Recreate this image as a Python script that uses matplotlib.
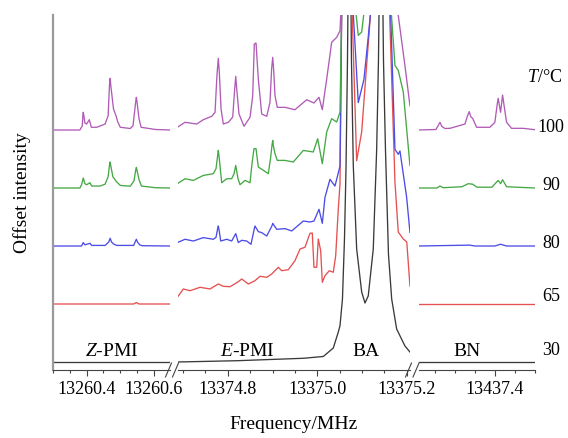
import matplotlib
matplotlib.use('Agg')
import matplotlib.pyplot as plt
from matplotlib.lines import Line2D
from matplotlib.ticker import FixedLocator, MultipleLocator, FormatStrFormatter

plt.rcParams['font.family'] = ['Liberation Serif', 'DejaVu Serif']
plt.rcParams['mathtext.fontset'] = 'custom'
plt.rcParams['mathtext.rm'] = 'Liberation Serif'
plt.rcParams['mathtext.it'] = 'Liberation Serif:italic'

# ---------------- data ----------------
temps = [30, 65, 80, 90, 100]
offsets = [0.0, 1.0, 2.0, 3.0, 4.0]
colors = ['#3a3a3a', '#e65050', '#4c4ce6', '#45a845', '#b05cb6']

seg_limits = [(13260.300, 13260.648), (13374.689, 13375.207), (13437.210, 13437.5005)]
seg_major = [[13260.4, 13260.6], [13374.8, 13375.0, 13375.2], [13437.4]]
seg_names = ['$Z$-PMI', '$E$-PMI', 'BA', 'BN']

# Z-PMI region (frequency MHz, relative intensity)
zpmi_30 = [(13260.300, 0.0), (13260.648, 0.0)]
zpmi_65 = [(13260.300, 0.0), (13260.540, 0.0), (13260.548, 0.025), (13260.556, 0.0), (13260.648, 0.0)]
zpmi_80 = [(13260.300, 0.0), (13260.385, 0.0), (13260.390, 0.059), (13260.395, 0.02), (13260.410, 0.046),
           (13260.415, 0.01), (13260.455, 0.01), (13260.466, 0.07), (13260.470, 0.133), (13260.474, 0.07),
           (13260.480, 0.035), (13260.490, 0.01), (13260.540, 0.01), (13260.545, 0.08), (13260.548, 0.116),
           (13260.551, 0.07), (13260.558, 0.02), (13260.565, 0.005), (13260.648, 0.0)]
zpmi_90 = [(13260.300, 0.0), (13260.380, 0.0), (13260.385, 0.057), (13260.390, 0.172), (13260.395, 0.074),
           (13260.400, 0.057), (13260.410, 0.091), (13260.415, 0.034), (13260.440, 0.034), (13260.455, 0.066),
           (13260.464, 0.195), (13260.468, 0.39), (13260.470, 0.448), (13260.472, 0.38), (13260.478, 0.195),
           (13260.488, 0.114), (13260.500, 0.045), (13260.530, 0.031), (13260.541, 0.126), (13260.546, 0.31),
           (13260.548, 0.355), (13260.550, 0.30), (13260.556, 0.143), (13260.563, 0.034),
           (13260.605, 0.005), (13260.648, 0.0)]
zpmi_100 = [(13260.300, 0.0), (13260.380, 0.0), (13260.387, 0.07), (13260.389, 0.26), (13260.390, 0.305),
            (13260.392, 0.24), (13260.395, 0.12), (13260.400, 0.103), (13260.408, 0.178), (13260.414, 0.047),
            (13260.430, 0.047), (13260.455, 0.103), (13260.464, 0.247), (13260.468, 0.78), (13260.470, 0.891),
            (13260.472, 0.76), (13260.480, 0.362), (13260.488, 0.236), (13260.492, 0.15), (13260.500, 0.047),
            (13260.530, 0.026), (13260.538, 0.074), (13260.546, 0.49), (13260.548, 0.564), (13260.550, 0.48),
            (13260.556, 0.19), (13260.562, 0.047), (13260.605, 0.009), (13260.648, 0.0)]

# E-PMI + BA region
epmi_30 = [(13374.6875, 0.0), (13374.8201, 0.022), (13374.9688, 0.064), (13375.0134, 0.095),
           (13375.0357, 0.241), (13375.0469, 0.517), (13375.0507, 0.626), (13375.0562, 1.086),
           (13375.0607, 2.12), (13375.0641, 3.33), (13375.0674, 5.2), (13375.0719, 9.0),
           (13375.0763, 5.2), (13375.0804, 3.38), (13375.0879, 1.95), (13375.0991, 1.207),
           (13375.1065, 1.017), (13375.1138, 1.14), (13375.1250, 1.95), (13375.1326, 3.67),
           (13375.1366, 5.2), (13375.1422, 9.0), (13375.1478, 5.2), (13375.1522, 3.67),
           (13375.1589, 1.86), (13375.1661, 1.086), (13375.1772, 0.569), (13375.1957, 0.276),
           (13375.2069, 0.172)]
epmi_65 = [(13374.6875, 0.116), (13374.7009, 0.259), (13374.7159, 0.229), (13374.7382, 0.288),
           (13374.7605, 0.259), (13374.7790, 0.345), (13374.7902, 0.305), (13374.8051, 0.298),
           (13374.8237, 0.384), (13374.8313, 0.431), (13374.8460, 0.345), (13374.8609, 0.402),
           (13374.8721, 0.478), (13374.8871, 0.460), (13374.8982, 0.517), (13374.9130, 0.633),
           (13374.9205, 0.574), (13374.9353, 0.591), (13374.9502, 0.747), (13374.9614, 0.948),
           (13374.9725, 0.978), (13374.9837, 1.219), (13374.9888, 1.224), (13374.9926, 0.633),
           (13374.9987, 0.633), (13375.0022, 1.121), (13375.0076, 0.919), (13375.0112, 0.374),
           (13375.0172, 0.488), (13375.0268, 0.574), (13375.0357, 0.547), (13375.0411, 0.833),
           (13375.0469, 1.638), (13375.0507, 2.07), (13375.0545, 5.1), (13375.0719, 8.0),
           (13375.0775, 5.1), (13375.0879, 2.471), (13375.0991, 2.966), (13375.1087, 3.966),
           (13375.1198, 5.1), (13375.1422, 8.0), (13375.1611, 5.1), (13375.1734, 2.103),
           (13375.1808, 1.241), (13375.1920, 1.121), (13375.1998, 1.069), (13375.2069, 0.31)]
epmi_80 = [(13374.6875, 0.059), (13374.7047, 0.116), (13374.7232, 0.086), (13374.7456, 0.145),
           (13374.7679, 0.116), (13374.7739, 0.15), (13374.7775, 0.30), (13374.7790, 0.345),
           (13374.7806, 0.28), (13374.7844, 0.086), (13374.7978, 0.116), (13374.8089, 0.086),
           (13374.8179, 0.214), (13374.8237, 0.059), (13374.8313, 0.098), (13374.8424, 0.086),
           (13374.8520, 0.029), (13374.8594, 0.30), (13374.8609, 0.345), (13374.8683, 0.248),
           (13374.8759, 0.231), (13374.8871, 0.172), (13374.8989, 0.35), (13374.9005, 0.391),
           (13374.9094, 0.288), (13374.9279, 0.300), (13374.9429, 0.259), (13374.9576, 0.357),
           (13374.9688, 0.431), (13374.9837, 0.414), (13374.9926, 0.431), (13375.0038, 0.633),
           (13375.0112, 0.391), (13375.0172, 0.840), (13375.0283, 1.15), (13375.0395, 1.034),
           (13375.0507, 1.379), (13375.0545, 4.1), (13375.0719, 8.0), (13375.0797, 4.1),
           (13375.0915, 2.472), (13375.1042, 2.874), (13375.1132, 3.56), (13375.1199, 4.1),
           (13375.1422, 8.0), (13375.1634, 4.1), (13375.1734, 1.667), (13375.1808, 1.581),
           (13375.1846, 1.638), (13375.1995, 0.84), (13375.2069, 0.236)]
epmi_90 = [(13374.6875, 0.074), (13374.7047, 0.160), (13374.7232, 0.131), (13374.7456, 0.217),
           (13374.7679, 0.247), (13374.7739, 0.333), (13374.7775, 0.56), (13374.7790, 0.648),
           (13374.7806, 0.55), (13374.7866, 0.091), (13374.7978, 0.160), (13374.8089, 0.160),
           (13374.8141, 0.247), (13374.8179, 0.390), (13374.8230, 0.160), (13374.8275, 0.057),
           (13374.8386, 0.131), (13374.8498, 0.091), (13374.8542, 0.419), (13374.8587, 0.678),
           (13374.8632, 0.678), (13374.8683, 0.362), (13374.8833, 0.286), (13374.8906, 0.247),
           (13374.8955, 0.505), (13374.8989, 0.74), (13374.9005, 0.821), (13374.9021, 0.72),
           (13374.9056, 0.591), (13374.9107, 0.476), (13374.9279, 0.476), (13374.9464, 0.448),
           (13374.9688, 0.648), (13374.9911, 0.621), (13375.0009, 0.850), (13375.0112, 0.419),
           (13375.0210, 0.966), (13375.0321, 1.195), (13375.0433, 1.138), (13375.0507, 1.31),
           (13375.0545, 3.1), (13375.0719, 8.0), (13375.0853, 3.1), (13375.0915, 2.631),
           (13375.0991, 2.69), (13375.1054, 3.1), (13375.1422, 8.0), (13375.1645, 3.1),
           (13375.1734, 2.114), (13375.1808, 2.028), (13375.1920, 1.655), (13375.2069, 0.390)]
epmi_100 = [(13374.6875, 0.047), (13374.7047, 0.133), (13374.7308, 0.103), (13374.7456, 0.178),
            (13374.7643, 0.236), (13374.7717, 0.305), (13374.7760, 0.95), (13374.7790, 1.236),
            (13374.7812, 1.00), (13374.7851, 0.362), (13374.7902, 0.103), (13374.8014, 0.133),
            (13374.8112, 0.224), (13374.8155, 0.70), (13374.8179, 0.926), (13374.8200, 0.72),
            (13374.8252, 0.276), (13374.8364, 0.064), (13374.8498, 0.219), (13374.8558, 0.591),
            (13374.8594, 1.483), (13374.8632, 1.500), (13374.8683, 0.879), (13374.8759, 0.276),
            (13374.8871, 0.236), (13374.8944, 0.478), (13374.8980, 1.05), (13374.9005, 1.253),
            (13374.9027, 1.02), (13374.9056, 0.591), (13374.9107, 0.391), (13374.9279, 0.391),
            (13374.9502, 0.350), (13374.9763, 0.522), (13374.9926, 0.466), (13375.0038, 0.564),
            (13375.0112, 0.350), (13375.0210, 0.879), (13375.0321, 1.512), (13375.0433, 1.598),
            (13375.0507, 1.71), (13375.0530, 2.1), (13375.0719, 8.0), (13375.1065, 3.0),
            (13375.1422, 8.0), (13375.1795, 2.05), (13375.1957, 1.109), (13375.2069, 0.419)]

# BN region
bn_30 = [(13437.2083, 0.0), (13437.5, 0.0)]
bn_65 = [(13437.2083, 0.0), (13437.5, 0.0)]
bn_80 = [(13437.2083, 0.0), (13437.3375, 0.015), (13437.350, 0.0), (13437.400, 0.0),
         (13437.4143, 0.03), (13437.4293, 0.0), (13437.5, 0.0)]
bn_90 = [(13437.2083, 0.0), (13437.255, 0.0), (13437.2625, 0.034), (13437.270, 0.005),
         (13437.3175, 0.022), (13437.3333, 0.074), (13437.3443, 0.066), (13437.355, 0.014),
         (13437.3925, 0.014), (13437.4083, 0.131), (13437.4143, 0.074), (13437.4193, 0.143),
         (13437.4293, 0.022), (13437.5, 0.0)]
bn_100 = [(13437.2083, 0.0), (13437.2525, 0.009), (13437.2575, 0.069), (13437.2625, 0.133),
          (13437.2675, 0.06), (13437.275, 0.026), (13437.2875, 0.029), (13437.325, 0.103),
          (13437.3313, 0.241), (13437.3358, 0.317), (13437.3400, 0.224), (13437.3443, 0.202),
          (13437.3543, 0.047), (13437.3875, 0.047), (13437.400, 0.133), (13437.4060, 0.45),
          (13437.4083, 0.547), (13437.4143, 0.305), (13437.4193, 0.603), (13437.4225, 0.45),
          (13437.4293, 0.133), (13437.4418, 0.029), (13437.4708, 0.029), (13437.5, 0.005)]

segments = [
    [zpmi_30, zpmi_65, zpmi_80, zpmi_90, zpmi_100],
    [epmi_30, epmi_65, epmi_80, epmi_90, epmi_100],
    [bn_30, bn_65, bn_80, bn_90, bn_100],
]

# ---------------- layout ----------------
W, H = 568, 439
fig = plt.figure(figsize=(W / 100, H / 100), dpi=100)

def rect(x0, x1, yt, yb):
    return [x0 / W, 1 - yb / H, (x1 - x0) / W, (yb - yt) / H]

axes = [fig.add_axes(rect(53, 170, 16, 371)),
        fig.add_axes(rect(178, 410, 16, 371)),
        fig.add_axes(rect(419, 535, 16, 371))]

spine_c = '#444444'
for k, ax in enumerate(axes):
    for trace, off, col in zip(segments[k], offsets, colors):
        xs = [p[0] for p in trace]
        ys = [p[1] + off for p in trace]
        ax.plot(xs, ys, color=col, lw=0.95, solid_joinstyle='round')
    ax.set_xlim(*seg_limits[k])
    ax.set_ylim(-0.138, 5.983)
    ax.xaxis.set_major_locator(FixedLocator(seg_major[k]))
    ax.xaxis.set_minor_locator(MultipleLocator(0.05))
    ax.xaxis.set_major_formatter(FormatStrFormatter('%.1f'))
    ax.set_yticks([])
    ax.tick_params(axis='x', which='major', direction='out', length=4.5, width=0.8,
                   color=spine_c, labelsize=13, pad=3)
    ax.tick_params(axis='x', which='minor', direction='out', length=2.5, width=0.8, color=spine_c)
    ax.spines['top'].set_visible(False)
    ax.spines['right'].set_visible(False)
    ax.spines['bottom'].set_color(spine_c)
    ax.spines['bottom'].set_linewidth(0.8)
    if k == 0:
        ax.spines['left'].set_color('#9a9a9a')
        ax.spines['left'].set_linewidth(1.6)
    else:
        ax.spines['left'].set_visible(False)
    ax.patch.set_alpha(0)

# axis break marks
for cx in [168.5, 175.5, 408.5, 416.0]:
    fig.add_artist(Line2D([(cx - 3) / W, (cx + 3) / W], [1 - 378 / H, 1 - 364 / H],
                          transform=fig.transFigure, color=spine_c, lw=0.8))

# labels
fig.text(22 / W, 1 - 193 / H, 'Offset intensity', rotation=90, ha='center', va='center', fontsize=14)
fig.text(294 / W, 1 - 425 / H, 'Frequency/MHz', ha='center', va='center', fontsize=14)

for name, xp in zip(seg_names, [112, 247, 366, 467]):
    fig.text(xp / W, 1 - 352 / H, name, ha='center', va='center', fontsize=14)

fig.text(545 / W, 1 - 78 / H, '$T$/°C', ha='center', va='center', fontsize=13)
for t, yp in zip(temps, [351, 297, 244, 186, 127]):
    fig.text(551 / W, 1 - yp / H, str(t), ha='center', va='center', fontsize=13)

fig.savefig('out.png', dpi=100)
